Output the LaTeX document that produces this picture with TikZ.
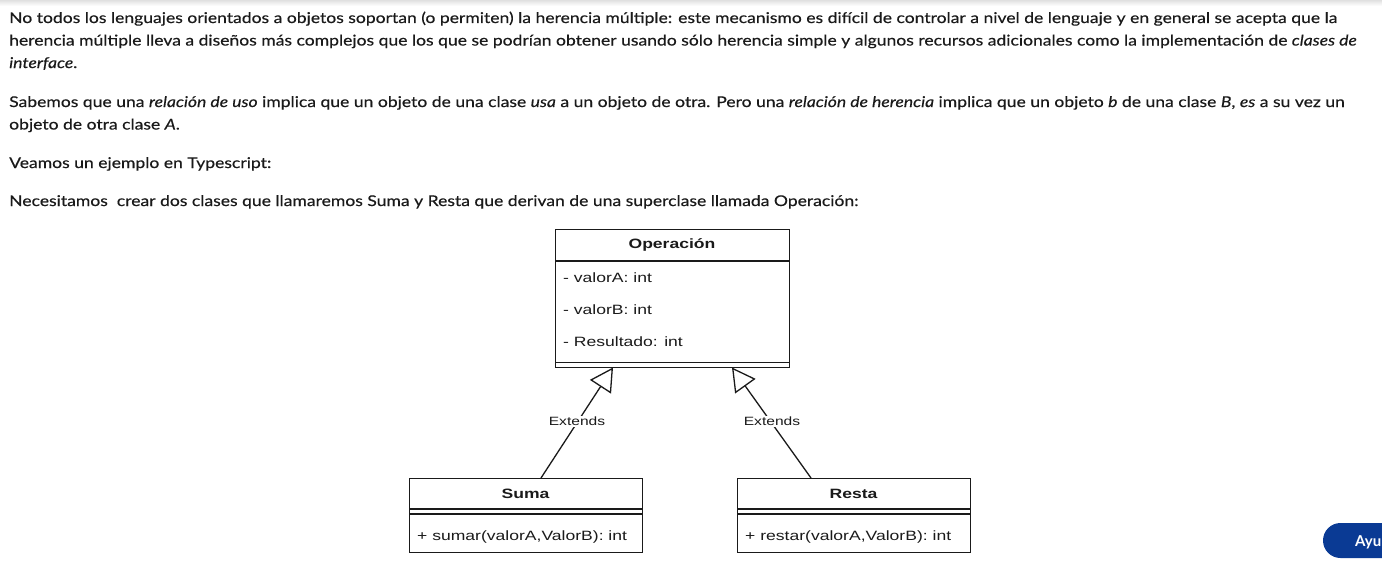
\documentclass[tikz,border=0pt]{standalone}
\usepackage{fontspec}
\setmainfont{Lato}[FakeStretch=1.185, FakeBold=0.35]
\newfontfamily\umlfont{Liberation Sans}[FakeStretch=1.3]
\newfontfamily\btnfont{Lato}
\usetikzlibrary{arrows.meta}
\definecolor{txt}{HTML}{1A1A1A}
\definecolor{umlc}{HTML}{1A1A1A}
\definecolor{btn}{HTML}{0A3A94}
\tikzset{
  bodytxt/.style={anchor=base west, inner sep=0pt, text=txt, font=\fontsize{14.8}{18}\selectfont},
  umltxt/.style={inner sep=0pt, text=umlc, font=\umlfont\fontsize{13.5}{16}\selectfont},
  umlbold/.style={inner sep=0pt, text=umlc, font=\umlfont\bfseries\fontsize{13.5}{16}\selectfont},
  lbl/.style={inner sep=1.5pt, fill=white, text=umlc, font=\umlfont\fontsize{12}{14}\selectfont},
  classbox/.style={draw=umlc, line width=1.3pt, fill=white, inner sep=0pt, anchor=north west},
  sepline/.style={draw=umlc, line width=1.3pt},
  ext/.style={draw=umlc, line width=1.3pt, -{Triangle[open, length=23pt, width=25pt, line width=1.3pt]}}
}
\begin{document}
\begin{tikzpicture}[x=1pt,y=-1pt]
\useasboundingbox (0,0) rectangle (1382,570);
\clip (0,0) rectangle (1382,570);
\fill[white] (0,0) rectangle (1382,570);
\shade[top color=black!12, bottom color=white] (0,0) rectangle (1382,6);

% body text
\node[bodytxt] (l1) at (9,23) {No todos los lenguajes orientados a objetos soportan (o permiten) la herencia múltiple: este mecanismo es difícil de controlar a nivel de lenguaje y en general se acepta que la};
\node[bodytxt] (l2) at (9,45.5) {herencia múltiple lleva a diseños más complejos que los que se podrían obtener usando sólo herencia simple y algunos recursos adicionales como la implementación de \textit{clases de}};
\node[bodytxt] (l3) at (9,68) {\textit{interface}.};
\node[bodytxt] (l4) at (9,107) {Sabemos que una \textit{relación de uso} implica que un objeto de una clase \textit{usa} a un objeto de otra. Pero una \textit{relación de herencia} implica que un objeto \textit{b} de una clase \textit{B}, \textit{es} a su vez un};
\node[bodytxt] (l5) at (9,129.5) {objeto de otra clase \textit{A}.};
\node[bodytxt] (l6) at (9,168) {Veamos un ejemplo en Typescript:};
\node[bodytxt] (l7) at (9,206) {Necesitamos\ \ crear dos clases que llamaremos Suma y Resta que derivan de una superclase llamada Operación:};

% Operacion class
\node[classbox, minimum width=234pt, minimum height=138pt] (op) at (555,229) {};
\draw[sepline] (555,261) -- (789,261);
\draw[sepline] (555,362.5) -- (789,362.5);
\node[umlbold] (opT) at (672,245) {Operación};
\node[umltxt, anchor=base west] (a1) at (563,282.5) {- valorA: int};
\node[umltxt, anchor=base west] (a2) at (563,314.5) {- valorB: int};
\node[umltxt, anchor=base west] (a3) at (563,346.5) {- Resultado: int};

% Suma class
\node[classbox, minimum width=233pt, minimum height=74pt] (suma) at (409,478) {};
\draw[sepline] (409,509) -- (642,509);
\draw[sepline] (409,514) -- (642,514);
\node[umlbold] (sumaT) at (525.5,493.5) {Suma};
\node[umltxt, anchor=base west] (m1) at (417,540) {+ sumar(valorA,ValorB): int};

% Resta class
\node[classbox, minimum width=233pt, minimum height=74pt] (resta) at (737,478) {};
\draw[sepline] (737,509) -- (970,509);
\draw[sepline] (737,514) -- (970,514);
\node[umlbold] (restaT) at (853.5,493.5) {Resta};
\node[umltxt, anchor=base west] (m2) at (745,540) {+ restar(valorA,ValorB): int};

% connectors
\coordinate (sumaTop) at (541,478);
\coordinate (opL) at (613,367.5);
\coordinate (restaTop) at (811,478);
\coordinate (opR) at (732,367.5);
\draw[ext] (sumaTop) -- (opL);
\draw[ext] (restaTop) -- (opR);
\node[lbl] (e1) at (577,421.5) {Extends};
\node[lbl] (e2) at (772,421.5) {Extends};

% help button
\fill[btn, rounded corners=17.5pt] (1323,523) rectangle (1430,558);
\node[anchor=base west, inner sep=0pt, text=white, font=\btnfont\bfseries\fontsize{15}{18}\selectfont] (ayu) at (1355,546) {Ayu};
\end{tikzpicture}
\end{document}
